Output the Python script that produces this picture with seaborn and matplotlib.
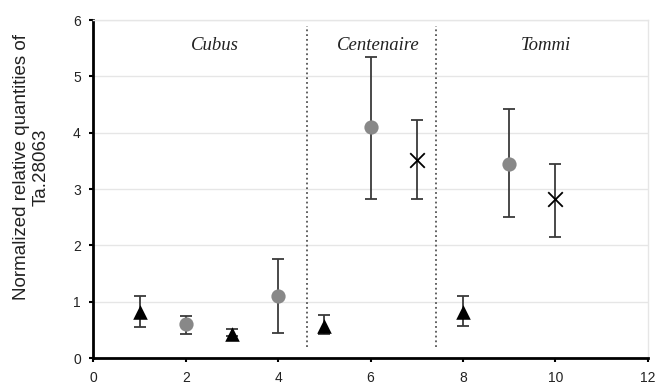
import matplotlib
matplotlib.use("Agg")
from matplotlib import pyplot as plt
import pandas as pd
import seaborn as sns

x_pos = [1, 2, 3, 4, 5, 6, 7, 8, 9, 10]
means = [0.82, 0.60, 0.43, 1.10, 0.57, 4.10, 3.52, 0.82, 3.45, 2.82]
err_high = [1.10, 0.75, 0.52, 1.75, 0.77, 5.35, 4.22, 1.10, 4.42, 3.45]
err_low = [0.55, 0.43, 0.40, 0.45, 0.42, 2.83, 2.83, 0.57, 2.50, 2.15]
kinds = ['tri', 'dot', 'tri', 'dot', 'tri', 'dot', 'cross', 'tri', 'dot', 'cross']
cultivars = ['Cubus', 'Centenaire', 'Tommi']
cultivar_x = [2.64, 6.16, 9.8]
dividers = [4.62, 7.42]


def main():
    df = pd.DataFrame({'x': x_pos, 'y': means, 'hi': err_high, 'lo': err_low, 'kind': kinds})

    sns.set_style('white')
    plt.rcParams['font.family'] = ['Liberation Sans', 'DejaVu Sans']

    fig, ax = plt.subplots(figsize=(6.57, 3.85), dpi=100)
    fig.subplots_adjust(left=0.142, right=0.986, bottom=0.07, top=0.948)

    # error bars first so markers sit on top
    yerr = [df['y'] - df['lo'], df['hi'] - df['y']]
    ax.errorbar(df['x'], df['y'], yerr=yerr, fmt='none', ecolor='#3a3a3a',
                elinewidth=1.3, capsize=4.5, capthick=1.3, zorder=2)

    # one call per marker type (seaborn won't mix filled and line markers)
    tri = df[df['kind'] == 'tri']
    sns.scatterplot(data=tri, x='x', y='y', marker='^', color='black',
                    s=110, linewidth=0, ax=ax, zorder=3)
    dot = df[df['kind'] == 'dot']
    sns.scatterplot(data=dot, x='x', y='y', marker='o', color='#888888',
                    s=105, linewidth=0, ax=ax, zorder=3)
    cross = df[df['kind'] == 'cross']
    sns.scatterplot(data=cross, x='x', y='y', marker='x', color='black',
                    s=110, linewidth=1.3, ax=ax, zorder=3)

    for d in dividers:
        ax.plot([d, d], [0.2, 5.9], color='#555555', linestyle=':', linewidth=1.3)

    for name, cx in zip(cultivars, cultivar_x):
        ax.text(cx, 5.55, name, ha='center', va='center', fontsize=13.5,
                style='italic', color='#222222',
                family=['Liberation Serif', 'DejaVu Serif'])

    ax.set_xlim(0, 12)
    ax.set_ylim(0, 6)
    ax.set_xticks(range(0, 13, 2))
    ax.set_yticks(range(0, 7))
    ax.yaxis.grid(True, color='#e6e6e6', linewidth=1)
    ax.set_axisbelow(True)

    for side in ['top', 'right']:
        ax.spines[side].set_color('#e6e6e6')
        ax.spines[side].set_linewidth(1)
    for side in ['left', 'bottom']:
        ax.spines[side].set_color('black')
        ax.spines[side].set_linewidth(2)

    ax.tick_params(axis='both', which='both', direction='out', length=3, width=1.5,
                   color='black', labelsize=10, labelcolor='#222222', pad=6,
                   left=True, bottom=True)
    ax.set_xlabel('')
    ax.set_ylabel('Normalized relative quantities of\nTa.28063', fontsize=13.5,
                  color='#222222')
    ax.yaxis.set_label_coords(-0.078, 0.565)

    plt.savefig('out.png', dpi=100)


if __name__ == "__main__":
    main()
